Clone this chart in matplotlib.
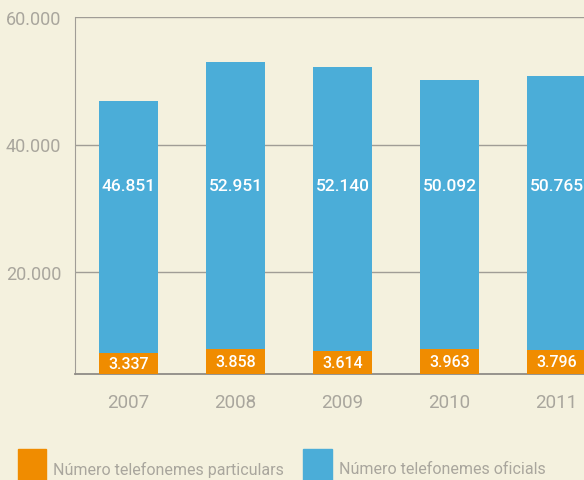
import matplotlib.pyplot as plt
from matplotlib.patches import Rectangle
import numpy as np

plt.rcParams["font.family"] = ["Roboto", "DejaVu Sans"]

years = ["2007", "2008", "2009", "2010", "2011"]
ofici = [46851, 52951, 52140, 50092, 50765]
particulars = [3337, 3858, 3614, 3963, 3796]
ofici_labels = ["46.851", "52.951", "52.140", "50.092", "50.765"]
particulars_labels = ["3.337", "3.858", "3.614", "3.963", "3.796"]
yticks = [20000, 40000, 60000]
ytick_labels = ["20.000", "40.000", "60.000"]

bg = "#f4f1de"
blue = "#4badd8"
orange = "#f08c00"
grey_txt = "#a9a69d"
grey_line = "#a09d96"

base = 4000  # axis floor, bars start here like in the original

fig = plt.figure(figsize=(5.84, 4.81), dpi=100, facecolor=bg)
ax = fig.add_axes([75 / 584, (481 - 375) / 481, (600 - 75) / 584, (375 - 18) / 481])
ax.set_facecolor(bg)

x = np.arange(len(years))
w = 0.55
ax.bar(x, np.array(ofici) - base, bottom=base, width=w, color=blue, zorder=2)
ax.bar(x, particulars, bottom=base, width=w, color=orange, zorder=3)

for i in range(len(years)):
    ax.text(x[i], 33600, ofici_labels[i], color="white", fontsize=12.5,
            fontweight="medium", ha="center", va="center", zorder=4)
    ax.text(x[i], base + particulars[i] / 2, particulars_labels[i], color="white",
            fontsize=11.5, fontweight="medium", ha="center", va="center", zorder=4)

ax.set_xlim(-0.5, 4.406)
ax.set_ylim(base, 60000)
ax.set_yticks(yticks)
ax.set_yticklabels(ytick_labels)
ax.set_xticks(x)
ax.set_xticklabels(years)
ax.tick_params(axis="both", length=0, labelsize=13, colors=grey_txt)
ax.tick_params(axis="x", pad=14, labelsize=13.5)
ax.tick_params(axis="y", pad=10)
ax.yaxis.grid(True, color=grey_line, linewidth=1, zorder=1)
ax.set_axisbelow(True)

for s in ["top", "right"]:
    ax.spines[s].set_visible(False)
ax.spines["left"].set_color(grey_line)
ax.spines["bottom"].set_color("#8f8c86")
ax.spines["bottom"].set_linewidth(1.3)

# legend
fig.patches.append(Rectangle((18 / 584, -0.01), 28 / 584, (481 - 450) / 481 + 0.01,
                             transform=fig.transFigure, color=orange))
fig.text(53 / 584, (481 - 470) / 481, "Número telefonemes particulars",
         color=grey_txt, fontsize=11.5, va="center")
fig.patches.append(Rectangle((303 / 584, -0.01), 29 / 584, (481 - 450) / 481 + 0.01,
                             transform=fig.transFigure, color=blue))
fig.text(339 / 584, (481 - 470) / 481, "Número telefonemes oficials",
         color=grey_txt, fontsize=11.5, va="center")

fig.savefig("out.png", dpi=100, facecolor=bg)
